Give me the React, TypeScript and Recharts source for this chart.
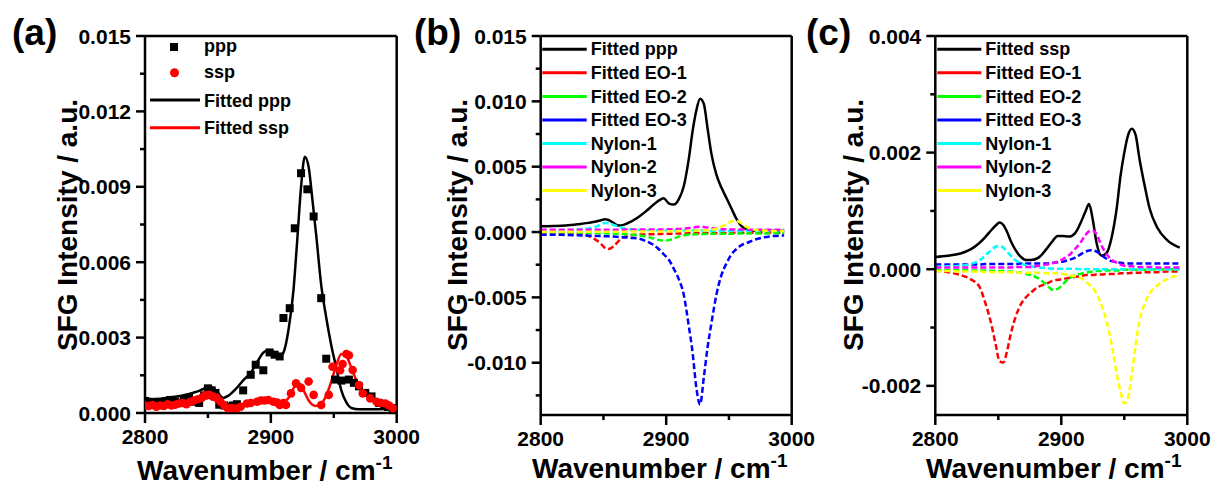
import React from 'react';
import { ComposedChart, Line, Scatter, XAxis, YAxis, ReferenceLine } from 'recharts';

const FONT = '"Liberation Sans", Arial, Helvetica, sans-serif';

// ---------- Panel (a) ----------
const gridA = [2800, 2810, 2820, 2830, 2838, 2844, 2848, 2851, 2854, 2858, 2862, 2866, 2872, 2878, 2884, 2890, 2894, 2898, 2902, 2906, 2910, 2914, 2918, 2921, 2924, 2927, 2930, 2933, 2936, 2940, 2944, 2948, 2952, 2956, 2960, 2964, 2970, 2978, 2986, 2994, 3000];
const fitPppA = [0.0005, 0.00055, 0.00062, 0.0007, 0.0008, 0.0009, 0.001, 0.00107, 0.001, 0.0008, 0.0006, 0.00068, 0.00095, 0.0013, 0.0016, 0.0021, 0.0024, 0.0025, 0.00244, 0.0022, 0.0024, 0.0033, 0.0049, 0.0069, 0.009, 0.0102, 0.0098, 0.0085, 0.0071, 0.0051, 0.0038, 0.0027, 0.0018, 0.0009, 0.00042, 0.0002, 0.00015, 0.00015, 0.00015, 0.00016, 0.00016];
const fitSspA = [0.00032, 0.00035, 0.00038, 0.00042, 0.0005, 0.0006, 0.00068, 0.0007, 0.00066, 0.00052, 0.00032, 0.0002, 0.00025, 0.00036, 0.00043, 0.00047, 0.00048, 0.00048, 0.00045, 0.00042, 0.00044, 0.0006, 0.00098, 0.00118, 0.00112, 0.0008, 0.0005, 0.00033, 0.00028, 0.00036, 0.0007, 0.00125, 0.0019, 0.00235, 0.00225, 0.0018, 0.00105, 0.0006, 0.00042, 0.0003, 0.00025];
const pppX = [2800, 2803, 2807, 2810, 2814, 2817, 2820, 2824, 2828, 2831, 2835, 2839, 2843, 2847, 2850, 2853, 2856, 2859, 2863, 2866, 2870, 2873, 2878, 2884, 2888, 2894, 2899, 2903, 2907, 2910, 2915, 2919, 2924, 2929, 2934, 2940, 2944, 2951, 2956, 2962, 2966, 2970, 2975, 2980, 2986, 2990, 2993, 2997];
const pppY = [0.00048, 0.00045, 0.00042, 0.00045, 0.0004, 0.00048, 0.00052, 0.00045, 0.0004, 0.00052, 0.0006, 0.00045, 0.0004, 0.0007, 0.00098, 0.0009, 0.0008, 0.00033, 0.0003, 0.00025, 0.0003, 0.00035, 0.0009, 0.00152, 0.00192, 0.0017, 0.00241, 0.00232, 0.00225, 0.00378, 0.00417, 0.00735, 0.00954, 0.0089, 0.00782, 0.00457, 0.00216, 0.00133, 0.00129, 0.00133, 0.0012, 0.00106, 0.0008, 0.00066, 0.0004, 0.0003, 0.00024, 0.0002];
const sspX = [2800, 2803, 2806, 2809, 2812, 2815, 2818, 2821, 2824, 2827, 2830, 2833, 2836, 2839, 2842, 2845, 2848, 2851, 2854, 2857, 2860, 2863, 2866, 2869, 2873, 2876, 2881, 2884, 2889, 2892, 2895, 2898, 2902, 2905, 2907, 2910, 2912, 2916, 2920, 2924, 2930, 2934, 2940, 2946, 2949, 2955, 2957, 2960, 2962, 2965, 2970, 2973, 2979, 2984, 2987, 2991, 2994, 2997];
const sspY = [0.0003, 0.00028, 0.00032, 0.00025, 0.0003, 0.00028, 0.00035, 0.0003, 0.00033, 0.00038, 0.0004, 0.00035, 0.00045, 0.0005, 0.00055, 0.0006, 0.0007, 0.00072, 0.00065, 0.0006, 0.00045, 0.0003, 0.00019, 0.0002, 0.00019, 0.00025, 0.00038, 0.0004, 0.00045, 0.0005, 0.0005, 0.00052, 0.00045, 0.00042, 0.00032, 0.0004, 0.00032, 0.00078, 0.00118, 0.001, 0.00125, 0.00072, 0.00032, 0.00072, 0.00184, 0.0017, 0.00195, 0.00235, 0.0023, 0.00171, 0.00111, 0.00078, 0.00058, 0.00045, 0.0004, 0.00038, 0.0003, 0.00019];

// ---------- Panel (b) ----------
const gridB = [2800, 2810, 2820, 2830, 2838, 2844, 2848, 2851, 2854, 2858, 2862, 2866, 2872, 2878, 2884, 2890, 2894, 2898, 2902, 2906, 2910, 2914, 2918, 2921, 2924, 2927, 2930, 2933, 2936, 2940, 2944, 2948, 2952, 2956, 2960, 2964, 2970, 2978, 2986, 2994];
const bFitPpp = [0.00044, 0.00046, 0.0005, 0.0006, 0.0007, 0.0008, 0.0009, 0.00097, 0.00092, 0.0007, 0.0005, 0.00055, 0.0008, 0.00115, 0.0016, 0.0021, 0.0024, 0.00258, 0.0022, 0.0021, 0.0025, 0.0035, 0.0056, 0.0077, 0.0093, 0.0102, 0.0098, 0.0079, 0.006, 0.0044, 0.0034, 0.0026, 0.0018, 0.001, 0.00045, 0.0002, 0.0001, 0.0001, 0.0001, 0.0001];
const bEO1 = [0, -0.00002, -0.00005, -0.0001, -0.0003, -0.0006, -0.0009, -0.0012, -0.0013, -0.0011, -0.0007, -0.0004, -0.00025, -0.0002, -0.00018, -0.00016, -0.00015, -0.00014, -0.00013, -0.00012, -0.00011, -0.0001, -0.0001, -0.0001, -0.00009, -0.00009, -0.00009, -0.00008, -0.00008, -0.00008, -0.00007, -0.00007, -0.00006, -0.00006, -0.00006, -0.00005, -0.00005, -0.00005, -0.00004, -0.00004];
const bEO2 = [-0.00002, -0.00003, -0.00004, -0.00005, -0.00007, -0.00008, -0.00009, -0.0001, -0.00011, -0.00012, -0.00014, -0.00016, -0.0002, -0.00026, -0.00035, -0.0005, -0.0006, -0.00065, -0.00062, -0.0005, -0.00035, -0.00025, -0.0002, -0.00018, -0.00017, -0.00016, -0.00015, -0.00015, -0.00014, -0.00014, -0.00013, -0.00013, -0.00013, -0.00012, -0.00012, -0.00012, -0.00011, -0.00011, -0.0001, -0.0001];
const bEO3 = [-0.0002, -0.0002, -0.00022, -0.00025, -0.00028, -0.0003, -0.0003, -0.00032, -0.00033, -0.00035, -0.00038, -0.0004, -0.00045, -0.0005, -0.0007, -0.001, -0.0013, -0.0017, -0.0021, -0.0028, -0.0036, -0.0048, -0.0072, -0.0092, -0.0119, -0.0132, -0.0111, -0.0088, -0.007, -0.0048, -0.0033, -0.0024, -0.0017, -0.0013, -0.001, -0.00085, -0.0006, -0.0004, -0.0003, -0.00026];
const bNylon1 = [0.00012, 0.00013, 0.00015, 0.0002, 0.00028, 0.0004, 0.00058, 0.0007, 0.00068, 0.00055, 0.0004, 0.0003, 0.00022, 0.00018, 0.00016, 0.00015, 0.00014, 0.00014, 0.00013, 0.00013, 0.00012, 0.00012, 0.00012, 0.00012, 0.00011, 0.00011, 0.00011, 0.00011, 0.0001, 0.0001, 0.0001, 0.0001, 0.0001, 0.0001, 0.0001, 0.0001, 0.0001, 0.0001, 0.0001, 0.0001];
const bNylon2 = [0.00018, 0.00018, 0.00018, 0.00018, 0.00018, 0.00018, 0.00018, 0.00018, 0.00018, 0.00018, 0.00018, 0.00018, 0.00019, 0.00019, 0.0002, 0.0002, 0.0002, 0.0002, 0.00021, 0.00022, 0.00024, 0.00027, 0.0003, 0.00034, 0.00038, 0.0004, 0.00038, 0.00034, 0.0003, 0.00026, 0.00023, 0.00021, 0.0002, 0.00019, 0.00019, 0.00018, 0.00018, 0.00018, 0.00018, 0.00018];
const bNylon3 = [0.00003, 0.00003, 0.00003, 0.00003, 0.00003, 0.00003, 0.00003, 0.00003, 0.00003, 0.00003, 0.00003, 0.00003, 0.00004, 0.00004, 0.00004, 0.00005, 0.00005, 0.00005, 0.00006, 0.00006, 0.00007, 0.00008, 0.00009, 0.0001, 0.00011, 0.00012, 0.00013, 0.00015, 0.00018, 0.00025, 0.0004, 0.0006, 0.0008, 0.00085, 0.00065, 0.0004, 0.0002, 0.0001, 0.00008, 0.00007];

// ---------- Panel (c) ----------
const gridC = [2800, 2810, 2820, 2828, 2835, 2840, 2844, 2848, 2851, 2854, 2857, 2860, 2864, 2868, 2872, 2876, 2882, 2888, 2893, 2897, 2901, 2906, 2911, 2915, 2919, 2922, 2925, 2928, 2932, 2936, 2940, 2944, 2947, 2950, 2953, 2956, 2959, 2962, 2966, 2970, 2976, 2984, 2994];
const cFitSsp = [0.00021, 0.00023, 0.00027, 0.00034, 0.00045, 0.00056, 0.00066, 0.00075, 0.0008, 0.00076, 0.00064, 0.00048, 0.00032, 0.00021, 0.00016, 0.00016, 0.0002, 0.00034, 0.00048, 0.00057, 0.00057, 0.00056, 0.00062, 0.00078, 0.00098, 0.00112, 0.00085, 0.00045, 0.00023, 0.00028, 0.00055, 0.00105, 0.0016, 0.002, 0.0023, 0.00241, 0.0023, 0.0019, 0.00145, 0.00105, 0.00072, 0.0005, 0.00037];
const cEO1 = [-0.00002, -0.00005, -0.0001, -0.00017, -0.0003, -0.0006, -0.0009, -0.0013, -0.00158, -0.0016, -0.0014, -0.0011, -0.0008, -0.0006, -0.00048, -0.0004, -0.0003, -0.00025, -0.0002, -0.00018, -0.00017, -0.00015, -0.00013, -0.00012, -0.0001, -0.0001, -0.0001, -0.00009, -0.00009, -0.00008, -0.00008, -0.00008, -0.00007, -0.00007, -0.00007, -0.00006, -0.00006, -0.00006, -0.00005, -0.00005, -0.00005, -0.00004, -0.00004];
const cEO2 = [-0.00001, -0.00001, -0.00001, -0.00002, -0.00002, -0.00002, -0.00003, -0.00003, -0.00003, -0.00003, -0.00004, -0.00004, -0.00005, -0.00006, -0.00008, -0.0001, -0.00016, -0.00026, -0.00035, -0.00034, -0.00026, -0.00016, -0.0001, -0.00008, -0.00006, -0.00005, -0.00004, -0.00003, -0.00003, -0.00002, -0.00002, -0.00002, -0.00002, -0.00001, -0.00001, -0.00001, -0.00001, -0.00001, -0.00001, -0.00001, 0, 0, 0];
const cEO3 = [0.00008, 0.00008, 0.00008, 0.00008, 0.00008, 0.00009, 0.00009, 0.00009, 0.00009, 0.00009, 0.00009, 0.00009, 0.00009, 0.0001, 0.0001, 0.0001, 0.0001, 0.0001, 0.00011, 0.00012, 0.00013, 0.00016, 0.0002, 0.00025, 0.0003, 0.00032, 0.00033, 0.0003, 0.00024, 0.00018, 0.00014, 0.00012, 0.00011, 0.0001, 0.0001, 0.0001, 0.0001, 0.0001, 0.0001, 0.0001, 0.0001, 0.0001, 0.0001];
const cNylon1 = [0.00004, 0.00005, 0.00006, 0.00009, 0.00015, 0.00024, 0.00032, 0.00039, 0.0004, 0.00037, 0.0003, 0.00023, 0.00015, 0.0001, 0.00007, 0.00005, 0.00003, 0.00002, 0.00001, 0.00001, 0.00001, 0.00001, 0.00001, 0, 0, 0, 0, 0, 0, 0, 0, 0, 0, 0, 0, 0, 0, 0, 0, 0, 0, 0, 0];
const cNylon2 = [0.00003, 0.00003, 0.00003, 0.00003, 0.00003, 0.00003, 0.00003, 0.00003, 0.00003, 0.00003, 0.00003, 0.00003, 0.00004, 0.00004, 0.00004, 0.00004, 0.00006, 0.00008, 0.0001, 0.00013, 0.00017, 0.00024, 0.00035, 0.00045, 0.00058, 0.00065, 0.00067, 0.0006, 0.0004, 0.00026, 0.00016, 0.00011, 0.00008, 0.00006, 0.00005, 0.00005, 0.00004, 0.00004, 0.00004, 0.00004, 0.00003, 0.00003, 0.00003];
const cNylon3 = [-0.00003, -0.00003, -0.00004, -0.00004, -0.00004, -0.00005, -0.00005, -0.00005, -0.00005, -0.00005, -0.00005, -0.00005, -0.00005, -0.00006, -0.00006, -0.00006, -0.00006, -0.00007, -0.00007, -0.00007, -0.00008, -0.0001, -0.00012, -0.00015, -0.0002, -0.00026, -0.00032, -0.00042, -0.00062, -0.0009, -0.0013, -0.0018, -0.0021, -0.0023, -0.0022, -0.0018, -0.0013, -0.0009, -0.0006, -0.00042, -0.00028, -0.00017, -0.0001];

// ---------- Axes ----------
const xTicks = [2800, 2850, 2900, 2950, 3000];
const xMajor = [2800, 2900, 3000];
const yTicksA = [0, 0.0015, 0.003, 0.0045, 0.006, 0.0075, 0.009, 0.0105, 0.012, 0.0135, 0.015];
const yMajorA = [0, 0.003, 0.006, 0.009, 0.012, 0.015];
const yTicksB = [-0.0125, -0.01, -0.0075, -0.005, -0.0025, 0, 0.0025, 0.005, 0.0075, 0.01, 0.0125, 0.015];
const yMajorB = [-0.01, -0.005, 0, 0.005, 0.01, 0.015];
const yTicksC = [-0.002, -0.001, 0, 0.001, 0.002, 0.003, 0.004];
const yMajorC = [-0.002, 0, 0.002, 0.004];

const legendA = ['ppp', 'ssp', 'Fitted ppp', 'Fitted ssp'];
const legendB = ['Fitted ppp', 'Fitted EO-1', 'Fitted EO-2', 'Fitted EO-3', 'Nylon-1', 'Nylon-2', 'Nylon-3'];
const legendC = ['Fitted ssp', 'Fitted EO-1', 'Fitted EO-2', 'Fitted EO-3', 'Nylon-1', 'Nylon-2', 'Nylon-3'];
const compColors = ['#000000', '#ff0000', '#00ff00', '#0000ff', '#00ffff', '#ff00ff', '#ffff00'];

const isIn = (arr: number[], v: number) => arr.some((a) => Math.abs(a - v) < 1e-9);

const makeXTick = (majors: number[]) => (props: any) => {
  const { x, y, payload } = props;
  const major = isIn(majors, payload.value);
  return (
    <g>
      <line x1={x} x2={x} y1={y} y2={y + (major ? 10 : 5)} stroke="#000" strokeWidth={2.5} />
      {major && (
        <text x={x} y={y + 31} textAnchor="middle" fontFamily={FONT} fontWeight="bold" fontSize={21} fill="#000">
          {payload.value}
        </text>
      )}
    </g>
  );
};

const makeYTick = (majors: number[]) => (props: any) => {
  const { x, y, payload } = props;
  const major = isIn(majors, payload.value);
  return (
    <g>
      <line x1={x} x2={x - (major ? 9 : 5)} y1={y} y2={y} stroke="#000" strokeWidth={2.5} />
      {major && (
        <text x={x - 14} y={y} dy="0.36em" textAnchor="end" fontFamily={FONT} fontWeight="bold" fontSize={21} fill="#000">
          {payload.value.toFixed(3)}
        </text>
      )}
    </g>
  );
};

const axisLine = { stroke: '#000', strokeWidth: 2.5 };

const SquareDot = (p: any) => <rect x={p.cx - 4} y={p.cy - 4} width={8} height={8} fill="#000" />;
const RoundDot = (p: any) => <circle cx={p.cx} cy={p.cy} r={4.3} fill="#ff0000" />;

const zipXY = (xs: number[], ys: number[]) => xs.map((x, i) => ({ x, y: ys[i] }));

const dataB = gridB.map((x, i) => ({
  x, fit: bFitPpp[i], eo1: bEO1[i], eo2: bEO2[i], eo3: bEO3[i], ny1: bNylon1[i], ny2: bNylon2[i], ny3: bNylon3[i],
}));
const dataC = gridC.map((x, i) => ({
  x, fit: cFitSsp[i], eo1: cEO1[i], eo2: cEO2[i], eo3: cEO3[i], ny1: cNylon1[i], ny2: cNylon2[i], ny3: cNylon3[i],
}));
const compKeys = ['fit', 'eo1', 'eo2', 'eo3', 'ny1', 'ny2', 'ny3'];

function PanelA() {
  return (
    <ComposedChart width={430} height={486} margin={{ top: 36, right: 33.3, bottom: 43, left: 0 }}>
      <XAxis type="number" dataKey="x" domain={[2800, 3000]} ticks={xTicks} interval={0} tick={makeXTick(xMajor)}
        tickLine={false} tickSize={0} tickMargin={0} axisLine={axisLine} height={30} allowDataOverflow />
      <YAxis type="number" dataKey="y" domain={[0, 0.015]} ticks={yTicksA} interval={0} tick={makeYTick(yMajorA)}
        tickLine={false} tickSize={0} tickMargin={0} axisLine={axisLine} width={145} allowDataOverflow />
      <ReferenceLine y={0.015} stroke="#000" strokeWidth={2.5} />
      <ReferenceLine x={3000} stroke="#000" strokeWidth={2.5} />
      <Scatter data={zipXY(pppX, pppY)} shape={SquareDot} isAnimationActive={false} />
      <Line data={zipXY(gridA, fitPppA)} dataKey="y" type="monotone" stroke="#000" strokeWidth={2.5} dot={false} activeDot={false} isAnimationActive={false} />
      <Scatter data={zipXY(sspX, sspY)} shape={RoundDot} isAnimationActive={false} />
      <Line data={zipXY(gridA, fitSspA)} dataKey="y" type="monotone" stroke="#ff0000" strokeWidth={2.5} dot={false} activeDot={false} isAnimationActive={false} />
    </ComposedChart>
  );
}

function CompPanel(props: { data: any[]; width: number; yWidth: number; right: number; domain: [number, number]; ticks: number[]; majors: number[] }) {
  const { data, width, yWidth, right, domain, ticks, majors } = props;
  return (
    <ComposedChart width={width} height={486} data={data} margin={{ top: 36, right, bottom: 41, left: 0 }}>
      <XAxis type="number" dataKey="x" domain={[2800, 3000]} ticks={xTicks} interval={0} tick={makeXTick(xMajor)}
        tickLine={false} tickSize={0} tickMargin={0} axisLine={axisLine} height={30} allowDataOverflow />
      <YAxis type="number" domain={domain} ticks={ticks} interval={0} tick={makeYTick(majors)}
        tickLine={false} tickSize={0} tickMargin={0} axisLine={axisLine} width={yWidth} allowDataOverflow />
      <ReferenceLine y={domain[1]} stroke="#000" strokeWidth={2.5} />
      <ReferenceLine x={3000} stroke="#000" strokeWidth={2.5} />
      {compKeys.map((k, i) => (
        <Line key={k} dataKey={k} type="monotone" stroke={compColors[i]} strokeWidth={2.5}
          strokeDasharray={i === 0 ? undefined : '6 3'} dot={false} activeDot={false} isAnimationActive={false} />
      ))}
    </ComposedChart>
  );
}

const textStyle = { fontFamily: FONT, fontWeight: 'bold' as const, fill: '#000' };

function Overlay() {
  const rows = [49.3, 72.8, 96.5, 120, 143.5, 167, 190.5];
  return (
    <svg width={1213} height={486} style={{ position: 'absolute', left: 0, top: 0, pointerEvents: 'none' }}>
      {/* panel letters */}
      <text x={12} y={45} fontSize={37} {...textStyle}>(a)</text>
      <text x={414} y={45} fontSize={37} {...textStyle}>(b)</text>
      <text x={806} y={45} fontSize={37} {...textStyle}>(c)</text>
      {/* y titles */}
      {[77, 467, 863].map((bx, i) => (
        <text key={'yt' + i} x={bx} y={225} fontSize={28} textAnchor="middle" transform={`rotate(-90 ${bx} 225)`} {...textStyle}>
          SFG Intensity / a.u.
        </text>
      ))}
      {/* x titles */}
      {[[137, 480], [532, 478], [926, 478]].map(([sx, by], i) => (
        <text key={'xt' + i} x={sx} y={by} fontSize={28} {...textStyle}>
          Wavenumber / cm<tspan fontSize={19} dy={-11}>-1</tspan>
        </text>
      ))}
      {/* legend (a) */}
      <rect x={170} y={43} width={8} height={8} fill="#000" />
      <text x={204} y={52} fontSize={18} {...textStyle}>{legendA[0]}</text>
      <circle cx={174.5} cy={72.7} r={4.5} fill="#ff0000" />
      <text x={204} y={78} fontSize={18} {...textStyle}>{legendA[1]}</text>
      <line x1={150} x2={200} y1={100} y2={100} stroke="#000" strokeWidth={3} />
      <text x={204} y={106.5} fontSize={18} {...textStyle}>{legendA[2]}</text>
      <line x1={150} x2={200} y1={127.7} y2={127.7} stroke="#ff0000" strokeWidth={3} />
      <text x={204} y={134} fontSize={18} {...textStyle}>{legendA[3]}</text>
      {/* legend (b) */}
      {legendB.map((name, i) => (
        <g key={'lb' + i}>
          <line x1={542.3} x2={586.7} y1={rows[i]} y2={rows[i]} stroke={compColors[i]} strokeWidth={3} />
          <text x={590.7} y={rows[i] + 6} fontSize={18} {...textStyle}>{name}</text>
        </g>
      ))}
      {/* legend (c) */}
      {legendC.map((name, i) => (
        <g key={'lc' + i}>
          <line x1={937.3} x2={981.3} y1={rows[i]} y2={rows[i]} stroke={compColors[i]} strokeWidth={3} />
          <text x={985.3} y={rows[i] + 6} fontSize={18} {...textStyle}>{name}</text>
        </g>
      ))}
    </svg>
  );
}

export default function App() {
  return (
    <div style={{ position: 'absolute', left: 0, top: 0, width: 1213, height: 486, background: '#fff', overflow: 'hidden' }}>
      <div style={{ position: 'absolute', left: 0, top: 0 }}>
        <PanelA />
      </div>
      <div style={{ position: 'absolute', left: 404, top: 0 }}>
        <CompPanel data={dataB} width={420} yWidth={136.7} right={32.3} domain={[-0.014, 0.015]} ticks={yTicksB} majors={yMajorB} />
      </div>
      <div style={{ position: 'absolute', left: 808, top: 0 }}>
        <CompPanel data={dataC} width={405} yWidth={127.3} right={25.7} domain={[-0.0025, 0.004]} ticks={yTicksC} majors={yMajorC} />
      </div>
      <Overlay />
    </div>
  );
}
